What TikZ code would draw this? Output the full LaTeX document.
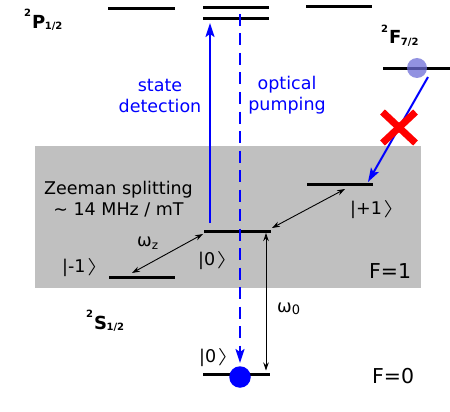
\documentclass[tikz,border=0pt]{standalone}
\usepackage{fontspec}
\setmainfont{DejaVu Sans}
\usetikzlibrary{arrows.meta,calc}
\definecolor{bandgray}{RGB}{192,192,192}
\definecolor{dotblue}{RGB}{110,110,215}
\newcommand\termsym[3]{\textbf{\raisebox{11.5pt}{\fontsize{10}{10}\selectfont #1}\kern1pt{\fontsize{18}{18}\selectfont #2}\kern-0.5pt\raisebox{-1.5pt}{\fontsize{10}{10}\selectfont #3}}}
\newcommand\ket[1]{|#1\kern1.5pt\raisebox{1pt}{\scalebox{1.7}[1.0]{$\rangle$}}}
\begin{document}
\begin{tikzpicture}[x=1pt,y=-1pt,
  level/.style={line width=3pt},
  txt/.style={font=\fontsize{17.5}{21}\selectfont, inner sep=0pt},
  bigtxt/.style={font=\fontsize{20.5}{24}\selectfont, inner sep=0pt},
  bluetxt/.style={txt, text=blue, align=center},
  thinarrow/.style={line width=0.9pt, {Stealth[length=8pt,width=5.5pt]}-{Stealth[length=8pt,width=5.5pt]}},
  bluearrow/.style={draw=blue, line width=2pt, -{Stealth[length=14pt,width=9pt,inset=3pt]}}]
\useasboundingbox (0,0) rectangle (450,412);
% band
\fill[bandgray] (35,146) rectangle (421,288);
% level coordinates
\coordinate (pAl) at (108,9);   \coordinate (pAr) at (175,9);
\coordinate (pBl) at (203,7.3); \coordinate (pBr) at (269,7.3);
\coordinate (pCl) at (203,18.3);\coordinate (pCr) at (269,18.3);
\coordinate (pDl) at (306,6.5); \coordinate (pDr) at (372,6.5);
\coordinate (fl) at (383,69);   \coordinate (fr) at (450,69);
\coordinate (pl) at (307,184);  \coordinate (pr) at (373,184);
\coordinate (zl) at (204,231);  \coordinate (zr) at (271,231);
\coordinate (ml) at (109,277);  \coordinate (mr) at (175,277);
\coordinate (gl) at (203,374.5);\coordinate (gr) at (270,374.5);
\draw[level] (pAl) -- (pAr);
\draw[level] (pBl) -- (pBr);
\draw[level] (pCl) -- (pCr);
\draw[level] (pDl) -- (pDr);
\draw[level] (fl) -- (fr);
\draw[level] (pl) -- (pr);
\draw[level] (zl) -- (zr);
\draw[level] (ml) -- (mr);
\draw[level] (gl) -- (gr);
% term labels
\node[inner sep=0pt, anchor=base west] (tP) at (24,28.5) {\termsym{2}{P}{1/2}};
\node[inner sep=0pt, anchor=base west] (tF) at (381,44) {\termsym{2}{F}{7/2}};
\node[inner sep=0pt, anchor=base west] (tS) at (86,329) {\termsym{2}{S}{1/2}};
% F state dot (semi-transparent)
\node[circle, fill=dotblue, fill opacity=0.75, minimum size=20pt, inner sep=0pt] (fdot) at (417,68) {};
% ground dot
\node[circle, fill=blue, minimum size=21.5pt, inner sep=0pt] (gdot) at (240,377) {};
% blue arrows
\coordinate (sdA) at (210,223);
\coordinate (sdB) at (210,23);
\draw[bluearrow] (sdA) -- (sdB);
\coordinate (opA) at (240,14);
\coordinate (opB) at (240,363);
\draw[bluearrow, dash pattern=on 12pt off 7.5pt] (opA) -- (opB);
\coordinate (dkA) at (428,77);
\coordinate (dkB) at (368,182);
\draw[bluearrow] (dkA) -- (dkB);
% red cross
\coordinate (xc) at (399,127.5);
\draw[red, line width=7pt] ($(xc)+(-16.5,-15.5)$) -- ($(xc)+(16.5,15.5)$);
\draw[red, line width=7pt] ($(xc)+(-16.5,15.5)$) -- ($(xc)+(16.5,-15.5)$);
% Zeeman arrows
\coordinate (zaA) at (132,273);
\coordinate (zaB) at (203,234);
\draw[thinarrow] (zaA) -- (zaB);
\coordinate (zbA) at (272,228);
\coordinate (zbB) at (345,189);
\draw[thinarrow] (zbA) -- (zbB);
\coordinate (w0A) at (266,233);
\coordinate (w0B) at (266,370.5);
\draw[thinarrow] (w0A) -- (w0B);
% texts
\node[bluetxt, anchor=center] (sdt) at (160,96) {state\\detection};
\node[bluetxt, anchor=center] (opt) at (287,95) {optical\\pumping};
\node[txt, align=center, anchor=center] (zee) at (118.5,199) {Zeeman splitting\\\textasciitilde\ 14 MHz / mT};
\node[txt, anchor=base west] (kp) at (350,214) {\ket{+1}};
\node[txt, anchor=base west] (kz) at (198,265) {\ket{0}};
\node[txt, anchor=base west] (km) at (62,272) {\ket{-1}};
\node[txt, anchor=base west] (kg) at (199,362) {\ket{0}};
\node[txt, anchor=base west] (wz) at (137,246) {ω\raisebox{-3pt}{\fontsize{12}{12}\selectfont z}};
\node[txt, anchor=base west] (wo) at (277,312) {ω\raisebox{-2pt}{\fontsize{13}{13}\selectfont 0}};
\node[bigtxt, anchor=base west] (f1) at (369,278) {F=1};
\node[bigtxt, anchor=base west] (f0) at (372,383) {F=0};
\end{tikzpicture}
\end{document}
